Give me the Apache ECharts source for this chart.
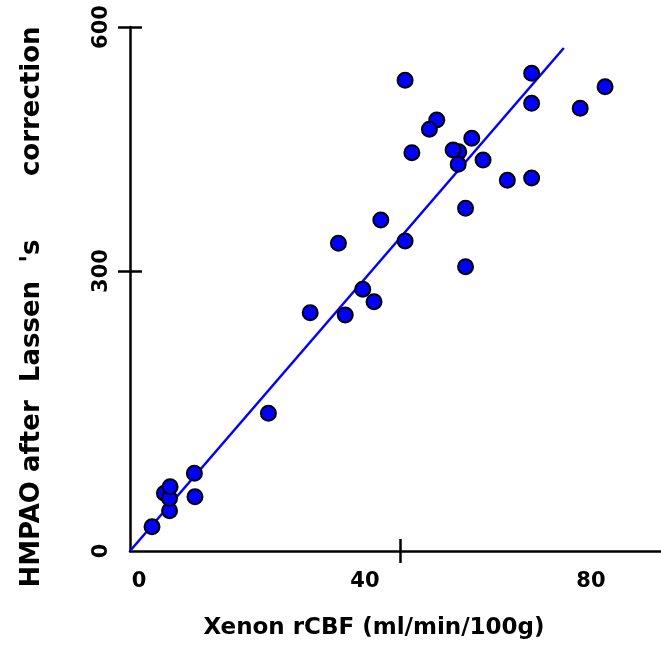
<!DOCTYPE html>
<html>
<head>
<meta charset="utf-8">
<script src="https://cdn.jsdelivr.net/npm/echarts@6/dist/echarts.min.js"></script>
<style>
  html, body { margin: 0; padding: 0; background: #fff; }
  #chart { width: 661px; height: 648px; }
</style>
</head>
<body>
<div id="chart"></div>
<script>
// Xenon rCBF vs HMPAO (after Lassen's correction)
var xenon_rcbf = [3.9, 7.0, 6.1, 7.0, 7.1, 11.5, 11.4, 24.5, 31.9, 38.1, 41.2, 43.2, 36.9, 44.4, 48.7,
    59.4, 59.4, 48.7, 71.1, 71.1, 84.1, 79.7, 54.3, 53.0, 60.5, 49.9, 58.2, 57.2, 58.1, 62.5, 66.8, 71.1];
var hmpao_lassen = [27.8, 46.1, 66.1, 60.3, 73.6, 62.2, 89.0, 157.7, 272.9, 270.2, 299.7, 285.5, 352.3, 379.0, 355.0,
    392.4, 325.5, 539.0, 547.0, 512.6, 531.6, 506.9, 493.5, 482.9, 472.6, 456.1, 457.2, 459.2, 442.8, 447.7, 424.5, 427.1];
// regression line end points
var fit_x = [0, 76.8];
var fit_y = [0, 576];
// tick labels
var x_tick_labels = [0, 40, 80];
var y_tick_labels = ['0', '300', '600'];
var y_tick_at = [0, 320.6, 600];   // where the picture puts them

var font_family = '"DejaVu Sans", sans-serif';

function build_points(){
    var arr = [];
    for(var i = 0; i < xenon_rcbf.length; i++){
        arr.push([xenon_rcbf[i], hmpao_lassen[i]]);
    }
    return arr;
}
function build_fit(){
    var arr = [];
    for(var i = 0; i < fit_x.length; i++){
        arr.push([fit_x[i], fit_y[i]]);
    }
    return arr;
}
function y_label(v){
    var best = 0;
    for(var i = 0; i < y_tick_at.length; i++){
        if(Math.abs(y_tick_at[i] - v) < Math.abs(y_tick_at[best] - v)) best = i;
    }
    return y_tick_labels[best];
}

var chart = echarts.init(document.getElementById("chart"));
var option = {
    animation: false,
    grid: { left: 130, top: 27, right: 0, bottom: 97 },
    xAxis: [{
        type: 'value', min: 0, max: 94, position: 'bottom',
        name: 'Xenon rCBF (ml/min/100g)',
        nameLocation: 'middle', nameGap: 66,
        nameTextStyle: { fontFamily: font_family, fontWeight: 'bold', fontSize: 23, color: '#000', padding: [0, 43, 0, 0] },
        axisLine: { show: true, lineStyle: { color: '#000', width: 2.5 } },
        axisTick: { show: true, length: 12, lineStyle: { color: '#000', width: 2.5 }, customValues: [47.8] },
        axisLabel: {
            show: true, margin: 20, customValues: x_tick_labels,
            formatter: function(v){ return '{a|' + v + '}'; },
            rich: { a: { fontFamily: font_family, fontWeight: 'bold', fontSize: 21, color: '#000', padding: [0, 0, 0, 18] } }
        },
        splitLine: { show: false }
    }, {
        type: 'value', min: 0, max: 94, position: 'bottom', gridIndex: 0,
        axisLine: { show: false },
        axisTick: { show: true, inside: true, length: 12, lineStyle: { color: '#000', width: 2.5 }, customValues: [47.8] },
        axisLabel: { show: false },
        splitLine: { show: false }
    }],
    yAxis: [{
        type: 'value', min: 0, max: 600, position: 'left',
        name: "HMPAO after  Lassen  's       correction",
        nameLocation: 'middle', nameGap: 85, nameRotate: 90,
        nameTextStyle: { fontFamily: font_family, fontWeight: 'bold', fontSize: 26, color: '#000', padding: [0, 36, 0, 0] },
        axisLine: { show: true, lineStyle: { color: '#000', width: 2.5 } },
        axisTick: { show: true, length: 12, lineStyle: { color: '#000', width: 2.5 }, customValues: [320.6, 600] },
        axisLabel: {
            show: true, margin: 18, rotate: 90, customValues: y_tick_at,
            fontFamily: font_family, fontWeight: 'bold', fontSize: 21, color: '#000',
            formatter: function(v){ return y_label(v); }
        },
        splitLine: { show: false }
    }, {
        type: 'value', min: 0, max: 600, position: 'left', gridIndex: 0,
        axisLine: { show: false },
        axisTick: { show: true, inside: true, length: 12, lineStyle: { color: '#000', width: 2.5 }, customValues: [320.6, 600] },
        axisLabel: { show: false },
        splitLine: { show: false }
    }],
    series: [{
        type: 'line',
        data: build_fit(),
        symbol: 'none',
        z: 2,
        lineStyle: { color: '#0000ff', width: 2.5 }
    }, {
        type: 'scatter',
        data: build_points(),
        symbol: 'circle',
        symbolSize: 15,
        z: 3,
        itemStyle: { color: '#0000ff', borderColor: '#000', borderWidth: 2, opacity: 1 }
    }]
};
chart.setOption(option);
</script>
</body>
</html>
